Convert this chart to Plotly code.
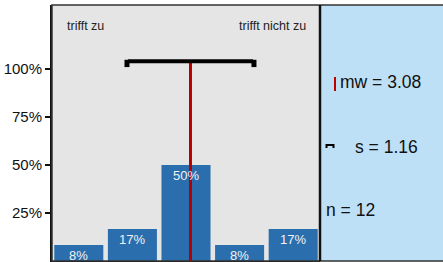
import math
import plotly.graph_objects as go

categories = [1, 2, 3, 4, 5]
counts = [1, 2, 6, 1, 2]
tick_vals = [0.25, 0.5, 0.75, 1.0]
tick_text = ["25%", "50%", "75%", "100%"]
left_label = "trifft zu"
right_label = "trifft nicht zu"

n = sum(counts)
shares = [c / n for c in counts]
mean = sum(k * c for k, c in zip(categories, counts)) / n
sd = math.sqrt(sum(c * (k - mean) ** 2 for k, c in zip(categories, counts)) / (n - 1))

W, H = 443, 262
ML, MR, MT, MB = 52, 123, 5, 1
PW = W - ML - MR
BAR = "#2a6ead"
PANEL = "#bee0f7"
FONT = "Liberation Sans, Arial, sans-serif"

fig = go.Figure()
fig.add_trace(go.Bar(
    x=categories, y=shares, marker=dict(color=BAR, line=dict(width=0)),
    width=0.915, hoverinfo="skip", showlegend=False,
))


def px_x(p):
    return (p - ML) / PW


def px_y(p):
    return 1 - (p - MT) / (H - MT - MB)


annotations = []
for k, s in zip(categories, shares):
    annotations.append(dict(
        x=k, y=s, xref="x", yref="y", text=f"{round(s * 100)}%",
        showarrow=False, yanchor="top", yshift=-1,
        font=dict(size=13, color="#f2f2f2", family=FONT),
    ))
annotations.append(dict(x=0.05, y=px_y(26), xref="paper", yref="paper", text=left_label,
                        showarrow=False, xanchor="left", yanchor="middle",
                        font=dict(size=12.5, color="#222", family=FONT)))
annotations.append(dict(x=0.955, y=px_y(26), xref="paper", yref="paper", text=right_label,
                        showarrow=False, xanchor="right", yanchor="middle",
                        font=dict(size=12.5, color="#222", family=FONT)))

annotations.append(dict(x=px_x(338), y=px_y(82), xref="paper", yref="paper",
                        text=f"mw = {mean:.2f}", showarrow=False, xanchor="left",
                        yanchor="middle", font=dict(size=17.5, color="#111", family=FONT)))
annotations.append(dict(x=px_x(353), y=px_y(147), xref="paper", yref="paper",
                        text=f"s = {sd:.2f}", showarrow=False, xanchor="left",
                        yanchor="middle", font=dict(size=17.5, color="#111", family=FONT)))
annotations.append(dict(x=px_x(324), y=px_y(210), xref="paper", yref="paper",
                        text=f"n = {n}", showarrow=False, xanchor="left",
                        yanchor="middle", font=dict(size=17.5, color="#111", family=FONT)))

sd_y = 1.04
shapes = [
    dict(type="rect", xref="paper", yref="paper", x0=1, x1=(W - ML) / PW + 0.01, y0=0, y1=1,
         fillcolor=PANEL, line=dict(width=0), layer="below"),
    dict(type="rect", xref="paper", yref="paper", x0=0, x1=(W - ML) / PW + 0.01, y0=0, y1=1,
         line=dict(color="#333", width=1.5), fillcolor="rgba(0,0,0,0)"),
    dict(type="line", xref="paper", yref="paper", x0=1, x1=1, y0=0, y1=1,
         line=dict(color="#111", width=2.5)),
    dict(type="line", xref="x", yref="y", x0=mean, x1=mean, y0=0, y1=sd_y,
         line=dict(color="#b30000", width=3)),
    dict(type="line", xref="x", yref="y", x0=mean - sd, x1=mean + sd, y0=sd_y, y1=sd_y,
         line=dict(color="#000", width=4)),
    dict(type="line", xref="x", yref="y", x0=mean - sd - 0.02, x1=mean - sd - 0.02,
         y0=sd_y + 0.008, y1=sd_y - 0.03, line=dict(color="#000", width=5)),
    dict(type="line", xref="x", yref="y", x0=mean + sd + 0.02, x1=mean + sd + 0.02,
         y0=sd_y + 0.008, y1=sd_y - 0.03, line=dict(color="#000", width=5)),
    dict(type="line", xref="paper", yref="paper", x0=px_x(335), x1=px_x(335),
         y0=px_y(77), y1=px_y(91), line=dict(color="#c00000", width=2)),
    dict(type="line", xref="paper", yref="paper", x0=px_x(326), x1=px_x(334),
         y0=px_y(145), y1=px_y(145), line=dict(color="#000", width=2)),
    dict(type="line", xref="paper", yref="paper", x0=px_x(326.5), x1=px_x(326.5),
         y0=px_y(144), y1=px_y(148), line=dict(color="#000", width=2)),
    dict(type="line", xref="paper", yref="paper", x0=px_x(333.5), x1=px_x(333.5),
         y0=px_y(144), y1=px_y(148), line=dict(color="#000", width=2)),
]

fig.update_layout(
    width=W, height=H,
    margin=dict(l=ML, r=MR, t=MT, b=MB, pad=0, autoexpand=False),
    paper_bgcolor="white", plot_bgcolor="#e5e5e5",
    font=dict(family=FONT, color="#111"),
    showlegend=False,
    shapes=shapes, annotations=annotations,
    xaxis=dict(range=[0.5, 5.5], showticklabels=False, ticks="", showgrid=False,
               zeroline=False, showline=True, linecolor="#111", linewidth=2,
               fixedrange=True, automargin=False),
    yaxis=dict(range=[0, 256 / 192], tickvals=tick_vals, ticktext=tick_text,
               ticks="outside", ticklen=5, tickwidth=2, tickcolor="#111",
               tickfont=dict(size=15, color="#111", family=FONT),
               showgrid=False, zeroline=False, showline=True, linecolor="#111",
               linewidth=2, fixedrange=True, automargin=False),
)

fig.write_html(
    "out.html",
    config={"displayModeBar": False},
    post_script="document.body.style.margin='0';document.body.style.overflow='hidden';",
)
